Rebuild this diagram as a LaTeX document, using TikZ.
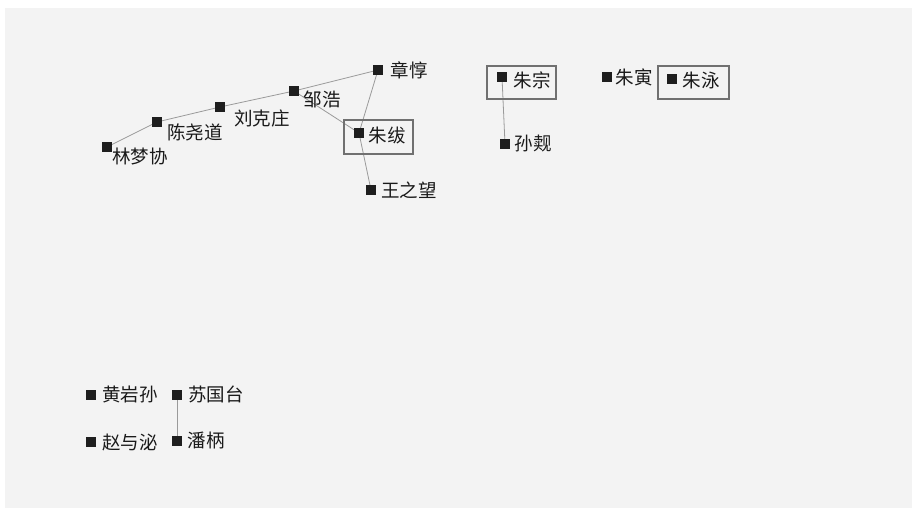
\documentclass[tikz,border=0pt]{standalone}
\usepackage{fontspec}
\newfontfamily\cjk{Noto Sans CJK SC}
\usetikzlibrary{backgrounds}
\definecolor{bgc}{HTML}{F3F3F3}
\definecolor{sqc}{HTML}{1E1E1E}
\definecolor{edgec}{HTML}{9A9A9A}
\definecolor{boxc}{HTML}{707070}
\tikzset{
  sq/.style={rectangle, fill=sqc, minimum size=10pt, inner sep=0pt},
  lbl/.style={font=\cjk\fontsize{18.5}{18.5}\selectfont, text=black!90, inner sep=0pt},
  link/.style={draw=edgec, line width=0.8pt},
  grpbox/.style={rectangle, draw=boxc, line width=1.3pt, inner sep=0pt},
}
\begin{document}
\begin{tikzpicture}[x=1pt,y=-1pt]
\useasboundingbox (0,0) rectangle (912,510);
\begin{scope}[on background layer]
\fill[bgc] (5,8) rectangle (912,508);
\end{scope}
% group boxes
\node[grpbox, minimum width=69pt, minimum height=34pt] (b1) at (378.5,137) {};
\node[grpbox, minimum width=69pt, minimum height=33pt] (b2) at (521.5,82.5) {};
\node[grpbox, minimum width=71pt, minimum height=33pt] (b3) at (693.5,82.5) {};
% squares
\node[sq] (lin) at (107,147) {};
\node[sq] (chen) at (157,122) {};
\node[sq] (liu) at (220,107) {};
\node[sq] (zou) at (294,91) {};
\node[sq] (zhang) at (378,70) {};
\node[sq] (zhuf) at (359,133) {};
\node[sq] (wang) at (371,190) {};
\node[sq] (zhuz) at (502,77) {};
\node[sq] (sun) at (505,144) {};
\node[sq] (zhuy) at (607,77) {};
\node[sq] (zhup) at (672,79) {};
\node[sq] (huang) at (91,395) {};
\node[sq] (su) at (177,395) {};
\node[sq] (zhao) at (91,442) {};
\node[sq] (pan) at (177,441) {};
% labels
\node[lbl] (tlin) at (140,157) {林梦协};
\node[lbl] (tchen) at (195,132) {陈尧道};
\node[lbl] (tliu) at (262,118) {刘克庄};
\node[lbl] (tzou) at (322,99) {邹浩};
\node[lbl] (tzhang) at (409,70) {章惇};
\node[lbl] (tzhuf) at (387,136) {朱绂};
\node[lbl] (twang) at (409,190) {王之望};
\node[lbl] (tzhuz) at (532,80) {朱宗};
\node[lbl] (tsun) at (533,143) {孙觌};
\node[lbl] (tzhuy) at (634,77) {朱寅};
\node[lbl] (tzhup) at (701,80) {朱泳};
\node[lbl] (thuang) at (130,394) {黄岩孙};
\node[lbl] (tsu) at (216,394) {苏国台};
\node[lbl] (tzhao) at (130,442) {赵与泌};
\node[lbl] (tpan) at (206,440) {潘柄};
% links
\begin{scope}[on background layer]
\draw[link] (lin.center) -- (chen.center);
\draw[link] (chen.center) -- (liu.center);
\draw[link] (liu.center) -- (zou.center);
\draw[link] (zou.center) -- (zhang.center);
\draw[link] (zou.center) -- (zhuf.center);
\draw[link] (zhang.center) -- (zhuf.center);
\draw[link] (zhuf.center) -- (wang.center);
\draw[link] (zhuz.center) -- (sun.center);
\draw[link] (su.center) -- (pan.center);
\end{scope}
\end{tikzpicture}
\end{document}
